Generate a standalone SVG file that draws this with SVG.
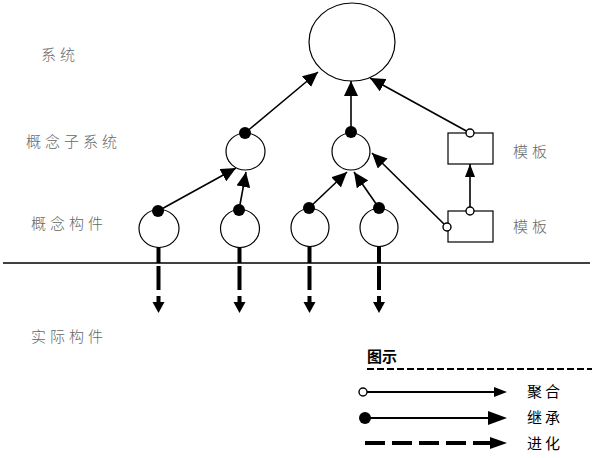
<svg xmlns="http://www.w3.org/2000/svg" width="592" height="458" viewBox="0 0 592 458">
<style>
.n{fill:#fff;stroke:#000;stroke-width:1.2}
.c{fill:none;stroke:#000;stroke-width:1.6}
.dot{fill:#000}
.hol{fill:#fff;stroke:#000;stroke-width:1.4}
.lbl{font-family:"Noto Sans CJK SC","Liberation Sans",sans-serif;font-size:15px;font-weight:300;fill:#666;letter-spacing:4px}
.leg{font-family:"Noto Sans CJK SC","Liberation Sans",sans-serif;font-size:15px;fill:#000;letter-spacing:3px}
.evo{stroke:#000;stroke-width:4;fill:none}
</style>
<defs>
<marker id="ah" markerUnits="userSpaceOnUse" markerWidth="16" markerHeight="14" refX="15" refY="7" orient="auto">
<path d="M0,0 L15,7 L0,14 Z" fill="#000"/>
</marker>
<marker id="ahs" markerUnits="userSpaceOnUse" markerWidth="14" markerHeight="12" refX="13" refY="5" orient="auto">
<path d="M0,0 L13,5 L0,10 Z" fill="#000"/>
</marker>
</defs>
<rect width="592" height="458" fill="#fff"/>

<text class="lbl" x="41" y="60">系统</text>
<text class="lbl" x="26" y="147">概念子系统</text>
<text class="lbl" x="31" y="229">概念构件</text>
<text class="lbl" x="31" y="342">实际构件</text>
<text class="lbl" x="513" y="157">模板</text>
<text class="lbl" x="513" y="232">模板</text>

<line x1="3" y1="263" x2="590" y2="263" stroke="#000" stroke-width="1.5"/>

<g id="system"><ellipse class="n" cx="352" cy="42" rx="43" ry="39"/></g>
<g id="sub1"><ellipse class="n" cx="245.5" cy="151.5" rx="19.5" ry="18.5"/></g>
<g id="sub2"><ellipse class="n" cx="351" cy="151.5" rx="19" ry="18.5"/></g>
<g id="tpl1"><rect class="n" x="448" y="133" width="45" height="31"/></g>
<g id="tpl2"><rect class="n" x="448" y="211" width="45" height="31"/></g>
<g id="comp1"><ellipse class="n" cx="159" cy="228.5" rx="20" ry="19"/></g>
<g id="comp2"><ellipse class="n" cx="240" cy="228.5" rx="19.5" ry="19"/></g>
<g id="comp3"><ellipse class="n" cx="310" cy="227.5" rx="19" ry="19"/></g>
<g id="comp4"><ellipse class="n" cx="379" cy="227.5" rx="19" ry="19"/></g>

<g id="connectors">
<line class="c" x1="245" y1="133" x2="318" y2="72" marker-end="url(#ah)"/>
<line class="c" x1="351" y1="132" x2="351" y2="81" marker-end="url(#ah)" stroke-width="2.5"/>
<line class="c" x1="470" y1="133" x2="370" y2="78" marker-end="url(#ah)"/>
<line class="c" x1="470" y1="211" x2="470" y2="164" marker-end="url(#ahs)" stroke-width="2.5"/>
<line class="c" x1="447" y1="227" x2="372" y2="153" marker-end="url(#ah)"/>
<line class="c" x1="158" y1="211" x2="236" y2="168" marker-end="url(#ah)"/>
<line class="c" x1="239" y1="210" x2="246" y2="172" marker-end="url(#ah)"/>
<line class="c" x1="309" y1="208" x2="347" y2="172" marker-end="url(#ah)"/>
<line class="c" x1="379" y1="208" x2="354" y2="172" marker-end="url(#ah)"/>

<circle class="dot" cx="245" cy="133" r="6"/>
<circle class="dot" cx="351" cy="132" r="6"/>
<circle class="hol" cx="470" cy="133" r="4"/>
<circle class="hol" cx="470" cy="211" r="4"/>
<circle class="hol" cx="447" cy="227" r="4"/>
<circle class="dot" cx="158" cy="211" r="6"/>
<circle class="dot" cx="239" cy="210" r="6"/>
<circle class="dot" cx="309" cy="208" r="6"/>
<circle class="dot" cx="379" cy="208" r="6"/>

<g>
<line class="evo" x1="158.5" y1="247" x2="158.5" y2="263"/>
<line class="evo" x1="158.5" y1="266" x2="158.5" y2="303" stroke-dasharray="24 6"/>
<path d="M152.5,302 L164.5,302 L158.5,313 Z" fill="#000"/>
<line class="evo" x1="239.5" y1="247" x2="239.5" y2="263"/>
<line class="evo" x1="239.5" y1="266" x2="239.5" y2="303" stroke-dasharray="24 6"/>
<path d="M233.5,302 L245.5,302 L239.5,313 Z" fill="#000"/>
<line class="evo" x1="309.5" y1="246" x2="309.5" y2="263" stroke-width="3"/>
<line class="evo" x1="309.5" y1="266" x2="309.5" y2="303" stroke-dasharray="24 6" stroke-width="3"/>
<path d="M303.5,302 L315.5,302 L309.5,313 Z" fill="#000"/>
<line class="evo" x1="379" y1="246" x2="379" y2="263" stroke-width="3"/>
<line class="evo" x1="379" y1="266" x2="379" y2="303" stroke-dasharray="24 6" stroke-width="3"/>
<path d="M373,302 L385,302 L379,313 Z" fill="#000"/>
</g>
</g>

<g id="legend">
<text x="367" y="362" font-family="'Noto Sans CJK SC','Liberation Sans',sans-serif" font-size="15" font-weight="bold" fill="#000">图示</text>
<line x1="367" y1="369" x2="592" y2="369" stroke="#000" stroke-width="2" stroke-dasharray="7 3"/>
<line x1="367" y1="392" x2="496" y2="392" stroke="#000" stroke-width="2"/>
<path d="M494,387 L507,392 L494,397 Z" fill="#000"/>
<circle class="hol" cx="363" cy="392" r="4"/>
<text class="leg" x="527" y="397">聚合</text>
<line x1="365" y1="418" x2="492" y2="418" stroke="#000" stroke-width="2"/>
<path d="M488,411 L507,418 L488,425 Z" fill="#000"/>
<circle class="dot" cx="365" cy="418" r="6"/>
<text class="leg" x="527" y="423">继承</text>
<line x1="365" y1="443" x2="492" y2="443" stroke="#000" stroke-width="4" stroke-dasharray="20 7"/>
<path d="M490,437 L507,443 L490,449 Z" fill="#000"/>
<text class="leg" x="527" y="449">进化</text>
</g>
</svg>
